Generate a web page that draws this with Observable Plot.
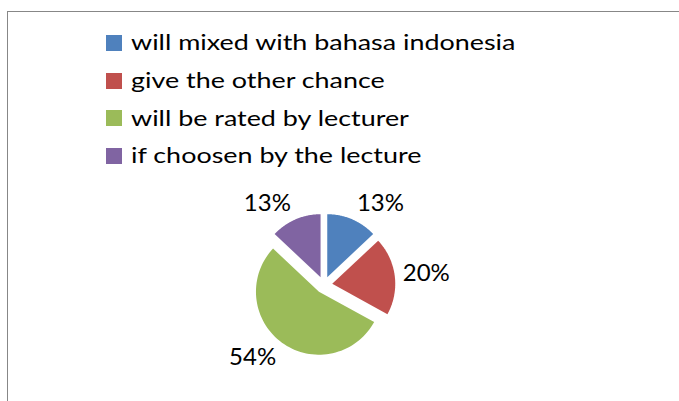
<!DOCTYPE html>
<html><head><meta charset="utf-8">
<script src="https://cdn.jsdelivr.net/npm/d3@7"></script>
<script src="https://cdn.jsdelivr.net/npm/@observablehq/plot@0.6"></script>
<style>
html,body{margin:0;padding:0;background:#fff;}
body{width:679px;height:401px;position:relative;overflow:hidden;font-family:Lato, sans-serif;}
#frame{position:absolute;left:7px;top:11px;width:700px;height:420px;border-top:1px solid #878787;border-left:1px solid #878787;}
#chart{position:absolute;left:0;top:0;}
#legend{position:absolute;left:106px;top:24px;}
.lg-swatches{font-family:Lato, sans-serif !important;font-size:22px !important;color:#000;margin:0 !important;}
.lg-swatch{height:37.7px;padding:0 !important;}
.lg-swatch > svg{margin-right:9px !important;}
.lg-swatch-label{position:relative;top:-1px;overflow:visible !important;transform-origin:left center;}
</style></head><body>
<div id="frame"></div>
<div id="chart"></div>
<div id="legend"></div>
<script>
const categories = ["will mixed with bahasa indonesia", "give the other chance", "will be rated by lecturer", "if choosen by the lecture"];
const percents = [13, 20, 54, 13];
const colors = ["#4F81BD", "#C0504D", "#9BBB59", "#8064A2"];
const labels = percents.map(p => p + "%");

// layout constants (pixels)
const cx = 323.4, cy = 284.4, R = 63, explode = 8.4;
const e = explode / R;

const arcs = d3.pie().sort(null).value(d => d)(percents);
const pts = [];
arcs.forEach((a, i) => {
  const cat = categories[i];
  const m = (a.startAngle + a.endAngle) / 2;
  const ox = e * Math.sin(m), oy = e * Math.cos(m);
  pts.push({cat, x: ox, y: oy});
  const n = 72;
  for (let k = 0; k <= n; k++) {
    const t = a.startAngle + (a.endAngle - a.startAngle) * k / n;
    pts.push({cat, x: ox + Math.sin(t), y: oy + Math.cos(t)});
  }
  pts.push({cat, x: ox, y: oy});
});

const lw = 26 / R, lh = 12 / R, lr = 77 / R;
const labelData = arcs.map((a, i) => {
  const m = (a.startAngle + a.endAngle) / 2;
  const s = Math.sin(m), c = Math.cos(m);
  return {text: labels[i], x: lr * s + Math.sign(s) * lw, y: lr * c + c * lh};
});

const chart = Plot.plot({
  width: 679, height: 401, margin: 0,
  x: {domain: [-1, 1], range: [cx - R, cx + R], axis: null},
  y: {domain: [-1, 1], range: [cy + R, cy - R], axis: null},
  color: {domain: categories, range: colors},
  style: {background: "transparent", overflow: "visible"},
  marks: [
    Plot.line(pts, {x: "x", y: "y", z: "cat", fill: "cat", stroke: "none", curve: "linear"}),
    Plot.text(labelData, {x: "x", y: "y", text: "text", fontSize: 24, fontFamily: "Lato, sans-serif", fill: "#000"})
  ]
});
document.getElementById("chart").appendChild(chart);

const legend = Plot.legend({
  color: {domain: categories, range: colors},
  legend: "swatches", columns: 1, swatchSize: 16, className: "lg",
  style: {fontSize: "22px", fontFamily: "Lato, sans-serif", color: "#000"}
});
document.getElementById("legend").appendChild(legend);

// stretch legend labels horizontally to the reference text width
const ctx = document.createElement("canvas").getContext("2d");
ctx.font = "22px Lato";
const natural = ctx.measureText(categories[0]).width;
const sx = 385 / natural;
legend.querySelectorAll(".lg-swatch-label").forEach(el => { el.style.transform = `scaleX(${sx})`; });
</script>
</body></html>
